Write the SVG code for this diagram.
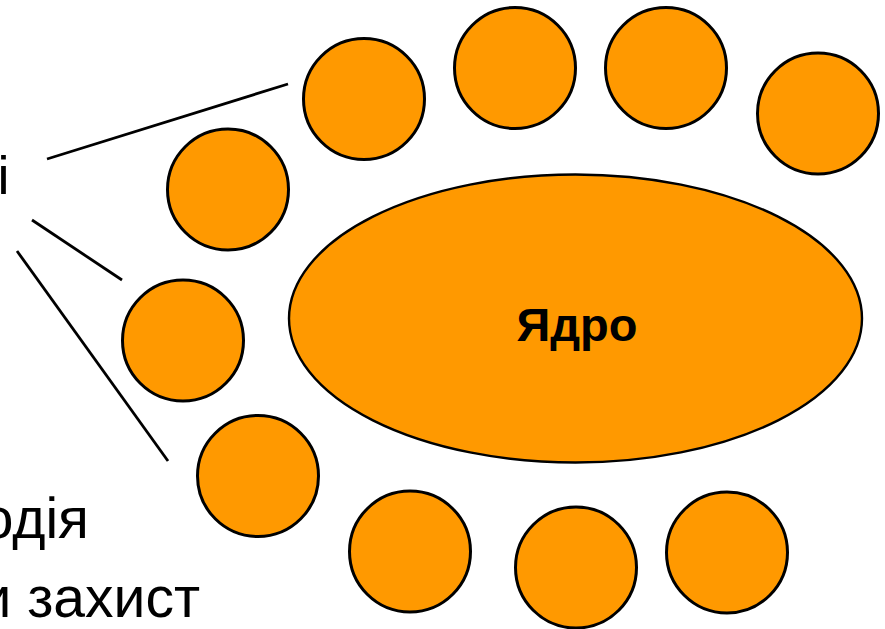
<svg xmlns="http://www.w3.org/2000/svg" width="885" height="629" viewBox="0 0 885 629">
<style>
.n{fill:#FF9900;stroke:#000;stroke-width:3}
.core{fill:#FF9900;stroke:#000;stroke-width:2.4}
.c{stroke:#000;stroke-width:2.8;fill:none}
.t{font-family:"Liberation Sans",Arial,sans-serif;fill:#000}
</style>
<rect width="885" height="629" fill="#fff"/>
<g id="connectors">
<line class="c" x1="47" y1="159" x2="288" y2="84"/>
<line class="c" x1="32" y1="220" x2="122" y2="280"/>
<line class="c" x1="17" y1="251" x2="168" y2="461"/>
</g>
<g id="core">
<ellipse class="core" cx="575.5" cy="318.5" rx="286.5" ry="144"/>
<text class="t" x="577" y="341" font-size="47" font-weight="bold" text-anchor="middle">Ядро</text>
</g>
<g id="c1"><circle class="n" cx="364" cy="99" r="60.5"/></g>
<g id="c2"><circle class="n" cx="515" cy="68" r="60.5"/></g>
<g id="c3"><circle class="n" cx="666" cy="68" r="60.5"/></g>
<g id="c4"><circle class="n" cx="818" cy="113.5" r="60.5"/></g>
<g id="c5"><circle class="n" cx="228" cy="189.5" r="60.5"/></g>
<g id="c6"><circle class="n" cx="183" cy="340.5" r="60.5"/></g>
<g id="c7"><circle class="n" cx="258" cy="476" r="60.5"/></g>
<g id="c8"><circle class="n" cx="410" cy="551.5" r="60.5"/></g>
<g id="c9"><circle class="n" cx="576" cy="567.5" r="60.5"/></g>
<g id="c10"><circle class="n" cx="727" cy="552.5" r="60.5"/></g>
<g id="labels">
<text class="t" x="9.5" y="194" font-size="54" text-anchor="end">і</text>
<text class="t" x="89" y="538" font-size="57" text-anchor="end">одія</text>
<text class="t" x="200" y="617" font-size="57" text-anchor="end">и захист</text>
</g>
</svg>
